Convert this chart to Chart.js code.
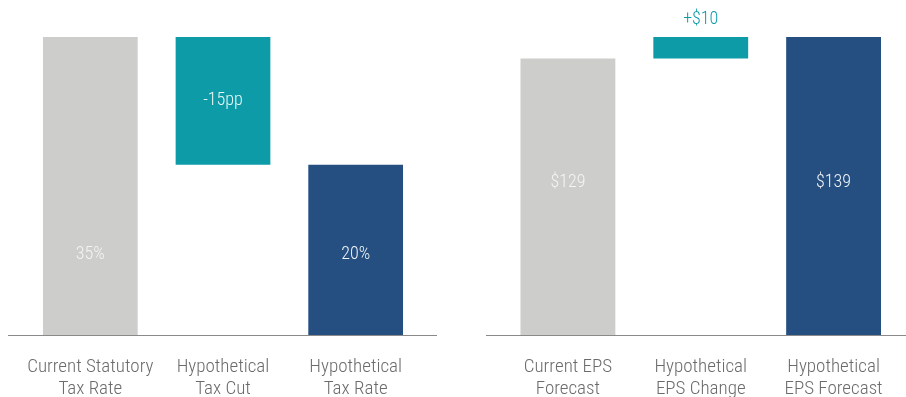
<!DOCTYPE html>
<html>
<head>
<meta charset="utf-8">
<script src="https://cdn.jsdelivr.net/npm/chart.js@4/dist/chart.umd.min.js"></script>
<style>
  html, body { margin: 0; padding: 0; background: #fff; }
  #wrap { display: flex; width: 906px; height: 397px; }
  .box { position: relative; width: 453px; height: 397px; }
</style>
</head>
<body>
<div id="wrap">
  <div class="box"><canvas id="taxChart"></canvas></div>
  <div class="box"><canvas id="epsChart"></canvas></div>
</div>
<script>
// tax rate waterfall
const taxLabels = [['Current Statutory', 'Tax Rate'], ['Hypothetical', 'Tax Cut'], ['Hypothetical', 'Tax Rate']];
const taxBars = [[0, 35], [20, 35], [0, 20]];
const taxText = ['35%', '-15pp', '20%'];

// EPS waterfall
const epsLabels = [['Current EPS', 'Forecast'], ['Hypothetical', 'EPS Change'], ['Hypothetical', 'EPS Forecast']];
const epsBars = [[0, 129], [129, 139], [0, 139]];
const epsText = ['$129', '+$10', '$139'];

const FONT = '"Liberation Sans Narrow", "Roboto Condensed", Roboto, sans-serif';
const GRAY = '#cdcdcb';
const TEAL = '#0e9ba8';
const NAVY = '#244f80';

// baseline under the bars, a bit wider than the category area
const baseline = {
  id: 'baseline',
  afterDatasetsDraw(chart, args, opts) {
    const ctx = chart.ctx;
    const y = chart.scales.y.getPixelForValue(0);
    ctx.save();
    ctx.strokeStyle = '#8a8a8a';
    ctx.lineWidth = 1;
    ctx.beginPath();
    ctx.moveTo(opts.from, Math.round(y) + 0.5);
    ctx.lineTo(opts.to, Math.round(y) + 0.5);
    ctx.stroke();
    ctx.restore();
  }
};

// value text on each bar
const valueText = {
  id: 'valueText',
  afterDatasetsDraw(chart, args, opts) {
    const ctx = chart.ctx;
    const meta = chart.getDatasetMeta(0);
    ctx.save();
    ctx.font = '300 18px ' + FONT;
    ctx.textAlign = 'center';
    ctx.textBaseline = 'middle';
    meta.data.forEach((bar, i) => {
      const spot = opts.spots[i];
      let y;
      if (spot === 'above') {
        y = bar.y - 18;
        ctx.fillStyle = TEAL;
      } else if (spot === 'mid') {
        y = (bar.y + bar.base) / 2;
        ctx.fillStyle = opts.colors[i];
      } else {
        y = chart.scales.y.getPixelForValue(spot);
        ctx.fillStyle = opts.colors[i];
      }
      ctx.fillText(opts.text[i], bar.x, y);
    });
    ctx.restore();
  }
};

function makeChart(id, labels, bars, text, yMax, pad, line, spots) {
  return new Chart(document.getElementById(id), {
    type: 'bar',
    data: {
      labels: labels,
      datasets: [{
        data: bars,
        backgroundColor: [GRAY, TEAL, NAVY],
        borderWidth: 0,
        categoryPercentage: 1,
        barPercentage: 0.714
      }]
    },
    options: {
      responsive: true,
      maintainAspectRatio: false,
      animation: false,
      layout: { padding: { left: pad.left, right: pad.right, top: 37, bottom: 0 } },
      plugins: {
        legend: { display: false },
        tooltip: { enabled: false },
        baseline: line,
        valueText: { text: text, spots: spots, colors: ['#f4f4f4', '#e8f6f7', '#f0f3f7'] }
      },
      scales: {
        x: {
          grid: { display: false, drawTicks: false },
          border: { display: false },
          ticks: {
            color: '#6b6b6b',
            padding: 21,
            font: { family: FONT, size: 19, weight: 300, lineHeight: 1.15 },
            maxRotation: 0
          },
          afterFit(scale) { scale.height = 62; }
        },
        y: { display: false, min: 0, max: yMax }
      }
    },
    plugins: [baseline, valueText]
  });
}

makeChart('taxChart', taxLabels, taxBars, taxText, 35,
  { left: 24, right: 31 }, { from: 8, to: 437 }, [9.5, 'mid', 9.5]);
makeChart('epsChart', epsLabels, epsBars, epsText, 139,
  { left: 48.5, right: 6 }, { from: 33, to: 453 }, [71, 'above', 71]);
</script>
</body>
</html>
